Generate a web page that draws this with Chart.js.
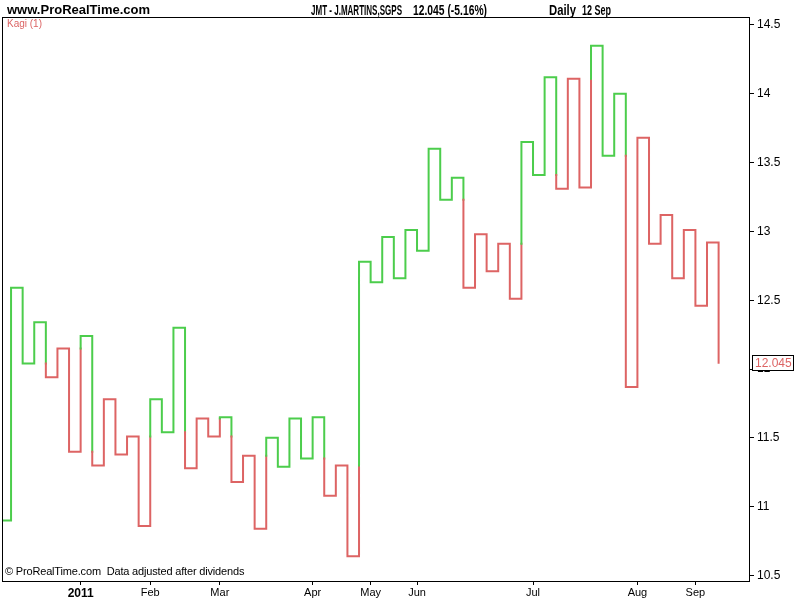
<!DOCTYPE html>
<html>
<head>
<meta charset="utf-8">
<script src="https://cdn.jsdelivr.net/npm/chart.js@4/dist/chart.umd.min.js"></script>
<style>
  body { margin: 0; background: #fff; }
  #wrap { position: relative; width: 800px; height: 600px; font-family: "Liberation Sans", Arial, sans-serif; }
  canvas { position: absolute; left: 0; top: 0; }
  .txt { position: absolute; white-space: pre; line-height: 1; }
  .head { font-weight: bold; font-size: 14px; color: #000; transform-origin: left center; top: 3px; }
</style>
</head>
<body>
<div id="wrap">
  <canvas id="myChart" width="800" height="600"></canvas>
  <div class="txt" style="left:7px;top:3px;font-weight:bold;font-size:13px;">www.ProRealTime.com</div>
  <div class="txt head" style="left:311px" data-w="91">JMT - J.MARTINS,SGPS</div>
  <div class="txt head" style="left:413px" data-w="74">12.045 (-5.16%)</div>
  <div class="txt head" style="left:549px" data-w="27">Daily</div>
  <div class="txt head" style="left:582px" data-w="29">12 Sep</div>
  <div class="txt" style="left:7px;top:19px;font-size:10px;color:#dc6464;">Kagi (1)</div>
  <div class="txt" style="left:5px;top:566px;font-size:11px;letter-spacing:-0.17px;color:#000;">© ProRealTime.com  Data adjusted after dividends</div>
</div>
<script>
// prix de depart puis niveau atteint par chaque ligne verticale du kagi
const prixDepart = 10.90
const niveauxKagi = [12.59, 12.04, 12.34, 11.94, 12.15, 11.40, 12.24, 11.30, 11.78, 11.38,
    11.51, 10.86, 11.78, 11.54, 12.30, 11.28, 11.64, 11.51, 11.65, 11.18,
    11.37, 10.84, 11.50, 11.29, 11.64, 11.35, 11.65, 11.08, 11.30, 10.64,
    12.78, 12.63, 12.96, 12.66, 13.01, 12.86, 13.60, 13.23, 13.39, 12.59,
    12.98, 12.71, 12.91, 12.51, 13.65, 13.41, 14.12, 13.31, 14.11, 13.32,
    14.35, 13.55, 14.00, 11.87, 13.68, 12.91, 13.12, 12.66, 13.01, 12.46,
    12.92, 12.045]
// position (numero de ligne) des changements de mois
const ticksMois = [6, 12, 18, 26, 31, 35, 45, 54, 59]
const labelsMois = ["2011", "Feb", "Mar", "Apr", "May", "Jun", "Jul", "Aug", "Sep"]
const ticksPrix = [10.5, 11, 11.5, 12, 12.5, 13, 13.5, 14, 14.5]

const VERT = "#4ccd4c"
const ROUGE = "#dd6464"

// titre en police etroite : on resserre chaque morceau a sa largeur
document.querySelectorAll(".head").forEach(el => {
    const w = el.getBoundingClientRect().width
    el.style.transform = `scaleX(${parseFloat(el.dataset.w) / w})`
})

// construction des points et des couleurs (yang = vert, yin = rouge)
const tous = [prixDepart, ...niveauxKagi]
const points = [{ x: -1, y: prixDepart }, { x: 0, y: prixDepart }]
const couleurs = [VERT]
let yang = true
for (let k = 1; k < tous.length; k++) {
    const i = k - 1
    const niveau = tous[k]
    const precedent = tous[k - 1]
    const ref = k >= 2 ? tous[k - 2] : null
    const monte = niveau > precedent
    if (ref !== null && yang && !monte && niveau < ref) {
        points.push({ x: i, y: ref }); couleurs.push(VERT)
        yang = false
    } else if (ref !== null && !yang && monte && niveau > ref) {
        points.push({ x: i, y: ref }); couleurs.push(ROUGE)
        yang = true
    }
    points.push({ x: i, y: niveau })
    couleurs.push(yang ? VERT : ROUGE)
    if (k < tous.length - 1) {
        points.push({ x: i + 1, y: niveau })
        couleurs.push(yang ? VERT : ROUGE)
    }
}

const cadre = {
    id: "cadre",
    afterDraw(chart) {
        const ctx = chart.ctx
        const a = chart.chartArea
        ctx.save()
        ctx.strokeStyle = "#000"
        ctx.lineWidth = 1
        ctx.strokeRect(Math.round(a.left) + 0.5, Math.round(a.top) + 0.5, Math.round(a.right - a.left), Math.round(a.bottom - a.top))
        // etiquette du dernier prix
        const dernier = niveauxKagi[niveauxKagi.length - 1]
        const y = Math.round(chart.scales.y.getPixelForValue(dernier))
        ctx.fillStyle = "#fff"
        ctx.fillRect(752, y - 8, 41, 16)
        ctx.strokeRect(752.5, y - 7.5, 41, 15)
        ctx.fillStyle = ROUGE
        ctx.font = "12px 'Liberation Sans', Arial, sans-serif"
        ctx.textBaseline = "middle"
        ctx.fillText(dernier.toString(), 755, y + 1)
        ctx.restore()
    }
}

new Chart(document.querySelector("#myChart"), {
    type: "line",
    data: {
        datasets: [{
            data: points,
            borderWidth: 2,
            pointRadius: 0,
            tension: 0,
            borderCapStyle: "square",
            borderJoinStyle: "miter",
            segment: {
                borderColor: c => couleurs[c.p0DataIndex]
            }
        }]
    },
    options: {
        responsive: false,
        animation: false,
        layout: { padding: { top: 17, left: 2, right: 0, bottom: 0 } },
        plugins: { legend: { display: false }, tooltip: { enabled: false } },
        scales: {
            x: {
                type: "linear",
                min: -0.78,
                max: 63.62,
                afterFit: s => { s.height = 19 },
                afterBuildTicks: s => { s.ticks = ticksMois.map(v => ({ value: v })) },
                border: { display: false },
                grid: { drawOnChartArea: false, drawTicks: true, tickLength: 4, color: "#000" },
                ticks: {
                    autoSkip: false,
                    maxRotation: 0,
                    padding: 1,
                    color: "#000",
                    font: c => ({ family: "'Liberation Sans', Arial, sans-serif", size: c.index === 0 ? 12 : 11, weight: c.index === 0 ? "bold" : "normal" }),
                    callback: (v, i) => labelsMois[i]
                }
            },
            y: {
                position: "right",
                min: 10.46,
                max: 14.558,
                afterFit: s => { s.width = 51 },
                afterBuildTicks: s => { s.ticks = ticksPrix.map(v => ({ value: v })) },
                border: { display: false },
                grid: { drawOnChartArea: false, drawTicks: true, tickLength: 5, color: "#000" },
                ticks: {
                    padding: 3,
                    color: "#000",
                    font: { family: "'Liberation Sans', Arial, sans-serif", size: 12 },
                    callback: v => v.toString()
                }
            }
        }
    },
    plugins: [cadre]
})
</script>
</body>
</html>
